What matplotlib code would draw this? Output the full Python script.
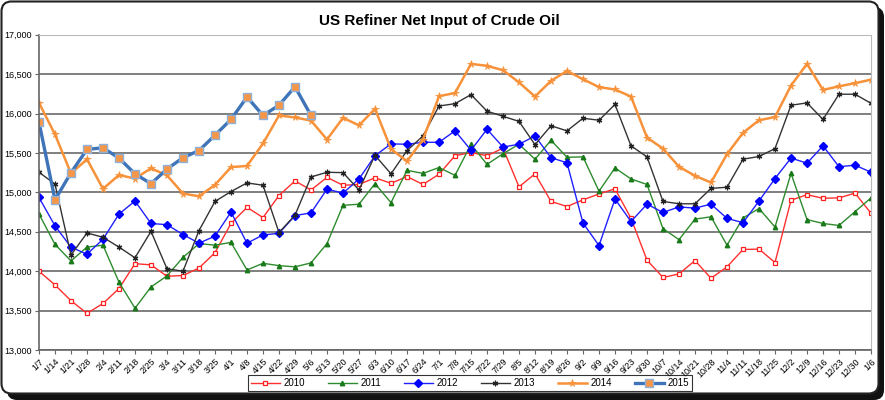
import matplotlib
matplotlib.use('Agg')
import matplotlib.pyplot as plt
from matplotlib.patches import FancyBboxPatch
from matplotlib.ticker import FuncFormatter, MultipleLocator

plt.rcParams['font.family'] = ['Liberation Sans', 'DejaVu Sans']

weeks = ['1/7', '1/14', '1/21', '1/28', '2/4', '2/11', '2/18', '2/25', '3/4', '3/11',
         '3/18', '3/25', '4/1', '4/8', '4/15', '4/22', '4/29', '5/6', '5/13', '5/20',
         '5/27', '6/3', '6/10', '6/17', '6/24', '7/1', '7/8', '7/15', '7/22', '7/29',
         '8/5', '8/12', '8/19', '8/26', '9/2', '9/9', '9/16', '9/23', '9/30', '10/7',
         '10/14', '10/21', '10/28', '11/4', '11/11', '11/18', '11/25', '12/2', '12/9',
         '12/16', '12/23', '12/30', '1/6']

y2010 = [14000, 13825, 13625, 13465, 13590, 13780, 14095, 14080, 13935, 13945,
         14040, 14235, 14605, 14810, 14680, 14960, 15145, 15030, 15190, 15090,
         15100, 15185, 15115, 15200, 15100, 15230, 15465, 15505, 15465, 15560,
         15070, 15235, 14885, 14820, 14905, 14980, 15045, 14670, 14140, 13920,
         13965, 14135, 13910, 14055, 14275, 14280, 14110, 14900, 14970, 14925,
         14930, 14990, 14735]
y2011 = [14725, 14340, 14130, 14305, 14330, 13860, 13530, 13800, 13940, 14175,
         14350, 14330, 14365, 14015, 14100, 14070, 14055, 14105, 14350, 14835,
         14850, 15110, 14870, 15280, 15240, 15315, 15215, 15610, 15355, 15490,
         15610, 15420, 15660, 15445, 15450, 15015, 15310, 15170, 15100, 14540,
         14400, 14660, 14690, 14330, 14675, 14795, 14560, 15240, 14655, 14605,
         14580, 14755, 14930]
y2012 = [14935, 14575, 14305, 14215, 14405, 14725, 14890, 14605, 14590, 14465,
         14355, 14445, 14750, 14355, 14460, 14480, 14705, 14740, 15040, 14990,
         15170, 15465, 15615, 15610, 15635, 15635, 15780, 15535, 15800, 15575,
         15610, 15715, 15440, 15375, 14610, 14325, 14915, 14630, 14850, 14745,
         14815, 14800, 14850, 14670, 14615, 14890, 15175, 15435, 15370, 15590,
         15325, 15345, 15255]
y2013 = [15255, 15105, 14205, 14485, 14430, 14305, 14170, 14505, 14030, 14000,
         14515, 14885, 15010, 15120, 15090, 14490, 14710, 15195, 15255, 15250,
         15030, 15470, 15235, 15530, 15715, 16095, 16125, 16240, 16030, 15965,
         15900, 15605, 15845, 15780, 15940, 15915, 16115, 15590, 15450, 14885,
         14855, 14855, 15050, 15065, 15420, 15455, 15555, 16105, 16135, 15925,
         16245, 16245, 16130]
y2014 = [16135, 15735, 15240, 15420, 15045, 15220, 15175, 15305, 15215, 14985,
         14950, 15095, 15320, 15335, 15620, 15975, 15950, 15910, 15670, 15945,
         15850, 16060, 15550, 15395, 15670, 16220, 16260, 16630, 16605, 16550,
         16395, 16215, 16415, 16540, 16435, 16335, 16305, 16215, 15695, 15555,
         15325, 15210, 15125, 15485, 15755, 15915, 15955, 16355, 16630, 16300,
         16345, 16385, 16430]
y2015 = [15890, 14905, 15250, 15545, 15565, 15435, 15235, 15110, 15295, 15440,
         15530, 15725, 15925, 16210, 15975, 16105, 16340, 15975]

series = [
    ('2010', y2010, dict(color='#FF3030', lw=1.0, marker='s', ms=3.5,
                         mfc='white', mec='#FF2020', mew=0.9)),
    ('2011', y2011, dict(color='#2E8B2E', lw=1.0, marker='^', ms=3.2,
                         mfc='#1A7A1A', mec='#1A7A1A')),
    ('2012', y2012, dict(color='#2020FF', lw=1.0, marker='D', ms=4.2,
                         mfc='#0000FF', mec='#0000FF')),
    ('2013', y2013, dict(color='#333333', lw=1.0, marker=(6, 2, 0), ms=4.0,
                         mec='#222222', mew=0.9)),
    ('2014', y2014, dict(color='#F7923A', lw=1.8, marker='*', ms=5.5,
                         mfc='#F7923A', mec='#F7923A', mew=0.5)),
    ('2015', y2015, dict(color='#3F74B8', lw=2.4, marker='s', ms=5.5,
                         mfc='#F79646', mec='#8FB0D8', mew=1.0)),
]

fig = plt.figure(figsize=(8.85, 4.0), dpi=100)
fig.patch.set_facecolor('white')

# frame with shadow
shadow = FancyBboxPatch((0.07, 0.0), 8.77, 3.93, boxstyle='round,pad=0,rounding_size=0.1',
                        transform=fig.dpi_scale_trans, facecolor='#111111',
                        edgecolor='none', zorder=-2)
frame = FancyBboxPatch((0.015, 0.065), 8.77, 3.92, boxstyle='round,pad=0,rounding_size=0.1',
                       transform=fig.dpi_scale_trans, facecolor='white',
                       edgecolor='#222222', linewidth=1.5, zorder=-1)
fig.patches.extend([shadow, frame])

ax = fig.add_axes([39 / 885, 1 - 350 / 400, 832 / 885, (350 - 34.7) / 400])
ax.set_facecolor('none')

x = list(range(len(weeks)))
for name, vals, st in series:
    ax.plot(x[:len(vals)], vals, label=name, **st)

ax.set_xlim(0, len(weeks) - 1)
ax.set_ylim(13000, 17000)
ax.yaxis.set_major_locator(MultipleLocator(500))
ax.yaxis.set_major_formatter(FuncFormatter(lambda v, p: f'{int(v):,}'))
ax.grid(axis='y', color='#7F7F7F', lw=1.4)
ax.set_axisbelow(True)

ax.set_xticks(x)
ax.set_xticklabels(weeks, rotation=45, ha='right', rotation_mode='anchor', fontsize=6.5)
ax.tick_params(axis='y', labelsize=6.5, length=3, color='#666666', pad=2)
ax.tick_params(axis='x', length=3, color='#666666', pad=2)

ax.spines['left'].set_color('#666666')
ax.spines['left'].set_linewidth(1.2)
ax.spines['bottom'].set_color('#666666')
ax.spines['bottom'].set_linewidth(1.2)
ax.spines['top'].set_color('#BBBBBB')
ax.spines['right'].set_color('#BBBBBB')

fig.text(0.497, 0.948, 'US Refiner Net Input of Crude Oil', ha='center', va='center',
         fontsize=11, fontweight='bold')

leg = fig.legend(loc='center', bbox_to_anchor=(0.531, 0.0425), ncol=6, fontsize=7,
                 frameon=True, fancybox=False, edgecolor='black', handlelength=3.0,
                 handletextpad=0.4, columnspacing=2.3, borderpad=0.3)
leg.get_frame().set_linewidth(0.8)

fig.savefig('out.png', dpi=100, facecolor='white')
